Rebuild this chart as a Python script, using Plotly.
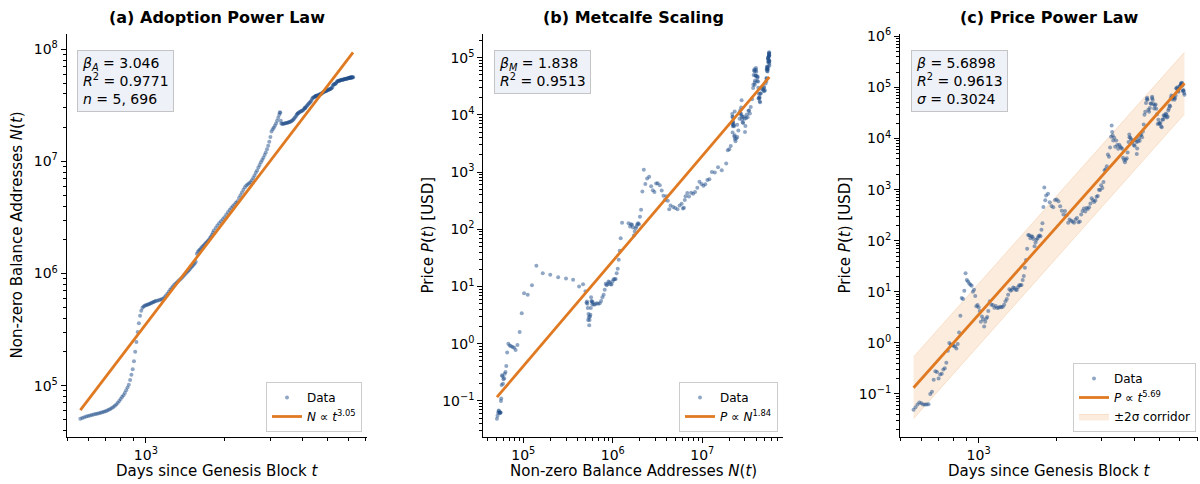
import numpy as np
import plotly.graph_objects as go

# ---------------- data ----------------
days = [
    560, 570, 580, 590, 600, 610, 620, 630, 640, 650, 660, 670, 680, 690, 700, 710, 720, 730,
    740, 750, 760, 770, 780, 790, 800, 810, 820, 830, 840, 850, 860, 870, 880, 890, 900, 910,
    920, 930, 940, 950, 960, 970, 980, 990, 1000, 1010, 1020, 1030, 1040, 1050, 1060, 1070, 1080, 1090,
    1105, 1120, 1135, 1150, 1165, 1180, 1195, 1210, 1225, 1240, 1255, 1270, 1285, 1300, 1315, 1330,
    1345, 1360, 1375, 1390, 1405, 1420, 1435, 1450, 1465, 1480, 1495, 1510, 1525, 1540, 1555, 1570,
    1585, 1600, 1615, 1630, 1645, 1660, 1675, 1690, 1705, 1720, 1735, 1750, 1765, 1780, 1795, 1810,
    1824, 1855, 1883, 1914, 1944, 1975, 2005, 2036, 2067, 2097, 2128, 2158,
    2189, 2220, 2248, 2279, 2309, 2340, 2370, 2401, 2432, 2462, 2493, 2523,
    2554, 2585, 2614, 2645, 2675, 2706, 2736, 2767, 2798, 2828, 2859, 2889,
    2920, 2951, 2979, 3010, 3040, 3071, 3101, 3132, 3163, 3193, 3224, 3254, 3270,
    3285, 3300, 3316, 3344, 3375, 3405, 3436, 3466, 3497, 3528, 3558, 3589, 3619,
    3650, 3681, 3709, 3740, 3770, 3801, 3827, 3831, 3862, 3893, 3923, 3954, 3984,
    4015, 4046, 4075, 4090, 4106, 4136, 4167, 4197, 4228, 4259, 4289, 4320, 4350,
    4381, 4412, 4440, 4471, 4484, 4501, 4532, 4562, 4593, 4624, 4654, 4685, 4692, 4715,
    4746, 4777, 4805, 4836, 4866, 4897, 4927, 4958, 4989, 5019, 5050, 5080,
    5111, 5142, 5170, 5201, 5231, 5262, 5292, 5323, 5354, 5384, 5415, 5445,
    5476, 5507, 5536, 5567, 5597, 5628, 5658, 5689, 5720, 5750, 5781, 5811,
    5842, 5873, 5901, 5932, 5962, 5993, 6023, 6054, 6067, 6085, 6115, 6120,
    6146, 6166, 6176, 6207, 6238, 6254,
]

addresses = [
    50700, 51500, 52300, 53000, 53600, 54200, 54800, 55300, 55800, 56200, 56600, 57200, 57800, 58500,
    59200, 60000, 61000, 62000, 63200, 64500, 66000, 68000, 70500, 73000, 76000, 79000, 82000, 86000,
    91000, 96000, 102000, 112000, 125000, 140000, 165000, 200000, 245000, 300000, 360000, 420000,
    465000, 495000, 508000, 515000, 520000, 525000, 530000, 535000, 540000, 545000, 550000, 556000,
    562000, 568000,
    572000, 578000, 584000, 590000, 597000, 615000, 635000, 660000, 688000, 715000, 740000, 765000,
    790000, 812000, 833000, 853000, 873000, 895000, 918000, 942000, 968000, 995000, 1020000, 1048000,
    1076000, 1105000, 1135000, 1165000, 1195000, 1225000, 1270000, 1500000, 1560000, 1600000, 1640000,
    1680000, 1720000, 1760000, 1800000, 1840000, 1880000, 1920000, 1960000, 2010000, 2070000, 2140000,
    2220000, 2310000,
    2.42e6, 2.55e6, 2.68e6, 2.80e6, 2.92e6, 3.05e6, 3.17e6, 3.35e6, 3.52e6, 3.68e6, 3.83e6, 3.97e6,
    4.12e6, 4.27e6, 4.42e6, 4.72e6, 4.98e6, 5.28e6, 5.58e6, 5.88e6, 6.08e6, 6.23e6, 6.38e6, 6.50e6,
    6.80e6, 7.10e6, 7.50e6, 7.90e6, 8.30e6, 8.80e6, 9.30e6, 9.80e6, 10.3e6, 10.8e6, 11.4e6, 12.0e6,
    12.8e6, 13.8e6, 15.0e6, 16.5e6, 18.5e6, 19.3e6, 20.0e6, 20.8e6, 21.8e6, 23.0e6, 24.5e6, 26.0e6, 27.5e6,
    27.2e6, 23.0e6, 21.8e6, 21.6e6, 21.7e6, 21.8e6, 21.9e6, 22.0e6, 22.1e6, 22.2e6, 22.4e6, 22.6e6, 22.8e6,
    23.1e6, 23.5e6, 24.0e6, 24.6e6, 25.3e6, 26.1e6, 26.6e6, 26.7e6, 27.1e6, 27.4e6, 27.8e6, 28.0e6, 28.3e6,
    28.6e6, 29.2e6, 29.8e6, 30.0e6, 30.3e6, 30.9e6, 31.5e6, 32.1e6, 32.8e6, 33.4e6, 34.0e6, 34.8e6, 36.0e6,
    37.0e6, 37.2e6, 37.5e6, 38.0e6, 38.2e6, 38.5e6, 38.5e6, 38.6e6, 38.9e6, 39.2e6, 39.5e6, 39.8e6, 39.8e6, 40.2e6,
    40.6e6, 41.0e6, 41.3e6, 41.7e6, 42.0e6, 42.3e6, 42.5e6, 42.8e6, 43.1e6, 43.4e6, 43.7e6, 43.9e6,
    44.2e6, 44.6e6, 45.0e6, 45.8e6, 47.5e6, 48.5e6, 48.8e6, 48.9e6, 49.2e6, 50.0e6, 51.0e6, 51.8e6,
    52.2e6, 52.3e6, 52.5e6, 52.7e6, 53.0e6, 53.2e6, 53.4e6, 53.5e6, 53.6e6, 53.8e6, 54.0e6, 54.2e6,
    54.4e6, 54.5e6, 54.6e6, 54.8e6, 55.0e6, 55.2e6, 55.4e6, 55.6e6, 55.7e6, 55.8e6, 55.9e6, 55.9e6,
    56.0e6, 56.0e6, 56.0e6, 56.1e6, 56.2e6, 56.2e6,
]

price_usd = [
    0.049, 0.055, 0.062, 0.068, 0.066, 0.062, 0.062, 0.062, 0.063, 0.10, 0.11, 0.19, 0.28, 0.27,
    0.20, 0.24, 0.25, 0.30, 0.32, 0.41, 0.70, 1.0, 0.93, 0.90, 0.88, 0.85, 0.78, 0.95, 1.6, 3.4,
    7.6, 7.2, 10.5, 23, 17, 16, 14.5, 13.8, 13.2, 10, 11, 8.3, 5.2, 5.5, 5.0, 4.2, 2.6, 3.3, 2.9,
    2.1, 2.6, 3.0, 3.2, 4.2,
    6.5, 5.6, 5.5, 4.9, 5.3, 4.8, 4.9, 5.1, 5.0, 5.1, 5.6, 6.5, 7.2, 8.8, 11.2, 10.5, 11.0, 12.2,
    11.9, 11.0, 10.9, 12.3, 13.4, 13.4, 13.6, 17.0, 20.5, 29.5, 42, 70, 130, 128, 112, 122, 120,
    108, 78, 92, 104, 112, 122, 127, 122, 165, 220, 460, 1100, 620,
    770, 830, 565, 480, 450, 630, 640, 590, 475, 385, 325, 380,
    315, 225, 260, 245, 235, 225, 260, 280, 230, 238, 325, 380,
    430, 375, 435, 417, 450, 535, 675, 620, 575, 615, 730, 750,
    1000, 980, 1220, 1080, 1420, 2400, 2500, 2870, 4900, 4400, 6700, 10900, 18000,
    13500, 11500, 9200, 10400, 6900, 9200, 7500, 6350, 7600, 7000, 6600, 6350, 4200,
    3800, 3450, 3850, 4100, 5350, 8550, 12000, 10600, 10400, 9600, 8300, 9150, 7400,
    7200, 9350, 8550, 5000, 6400, 8800, 10200, 9100, 11800, 11900, 10600, 13800, 18800,
    29400, 33500, 49600, 58900, 63000, 57800, 36700, 33500, 39900, 48800, 48100, 61300, 66000, 57000,
    47700, 38700, 44400, 46300, 38500, 29800, 19300, 23300, 20000, 19300, 20500, 17200,
    16600, 23700, 23600, 28500, 28100, 26800, 30600, 29700, 25900, 27000, 35400, 38700,
    44200, 43000, 62400, 69700, 58300, 67500, 62800, 64600, 57300, 61800, 69500, 97200,
    94400, 100600, 86000, 82500, 94200, 104600, 107100, 115800, 121000, 108200, 116500, 124000,
    110000, 85000, 87000, 88000, 78000, 72000,
]

# fitted power laws (coefficients printed on the chart, anchors)
beta_A, r2_A, n_days = 3.046, 0.9771, "5, 696"
beta_M, r2_M = 1.838, 0.9513
beta_P, r2_P, sigma_P = 5.6898, 0.9613, 0.3024
fitA_at_1000_days = 3.53e5      # N at t = 1000 days
fitM_at_1e6_addr = 27.9         # P at N = 1e6
fitP_at_1000_days = 3.58        # P at t = 1000 days

titles = ["(a) Adoption Power Law", "(b) Metcalfe Scaling", "(c) Price Power Law"]

# ---------------- styling ----------------
FONT = "DejaVu Sans"
BLUE = "#1F4E8A"
ORANGE = "#E07A22"
W, H = 1200, 484

t = np.array(days, float)
N = np.array(addresses, float)
P = np.array(price_usd, float)

t_line = np.array([t.min(), t.max()])
NA_line = fitA_at_1000_days * (t_line / 1000.0) ** beta_A
N_line = np.array([N.min(), N.max()])
PM_line = fitM_at_1e6_addr * (N_line / 1e6) ** beta_M
PP_line = fitP_at_1000_days * (t_line / 1000.0) ** beta_P
PP_up = PP_line * 10 ** (2 * sigma_P)
PP_lo = PP_line / 10 ** (2 * sigma_P)


def log_range(*arrs):
    v = np.log10(np.concatenate([np.asarray(a, float) for a in arrs]))
    lo, hi = v.min(), v.max()
    pad = 0.05 * (hi - lo)
    return [lo - pad, hi + pad]


def sup(k):
    s = str(k).replace("-", "\u2212")
    return "10<sup>%s</sup>" % s


def log_axis(domain, anchor, rng):
    k0, k1 = int(np.floor(rng[0])), int(np.ceil(rng[1]))
    majors = [10.0 ** k for k in range(k0, k1 + 1) if rng[0] <= k <= rng[1]]
    labels = [sup(k) for k in range(k0, k1 + 1) if rng[0] <= k <= rng[1]]
    minors = [m * 10.0 ** k for k in range(k0 - 1, k1 + 1) for m in range(2, 10)
              if rng[0] <= np.log10(m * 10.0 ** k) <= rng[1]]
    return dict(
        type="log", domain=domain, anchor=anchor, range=rng,
        showline=True, linecolor="black", linewidth=1.1, mirror=False,
        showgrid=False, zeroline=False, automargin=False,
        ticks="outside", ticklen=5, tickwidth=1.1, tickcolor="black",
        tickmode="array", tickvals=majors, ticktext=labels,
        tickfont=dict(family=FONT, size=14, color="black"),
        minor=dict(ticks="outside", ticklen=3, tickwidth=0.9, tickcolor="black",
                   tickmode="array", tickvals=minors, showgrid=False),
    )


# plot-area pixel boxes (left, right) ; shared top / bottom
px_x = [(66.7, 366.7), (483.3, 783.0), (900.0, 1198.0)]
px_top, px_bot = 34.0, 437.0
ydom = [1 - px_bot / H, 1 - px_top / H]
xdoms = [[a / W, b / W] for a, b in px_x]

fig = go.Figure()

data_style = dict(mode="markers", marker=dict(color=BLUE, size=4, opacity=0.5, line=dict(width=0)))

# (a)
fig.add_trace(go.Scatter(x=t, y=N, name="Data", xaxis="x", yaxis="y", legend="legend",
                         legendrank=1, **data_style))
fig.add_trace(go.Scatter(x=t_line, y=NA_line, mode="lines", line=dict(color=ORANGE, width=2.8),
                         name="<i>N</i> \u221d <i>t</i><sup>3.05</sup>", xaxis="x", yaxis="y",
                         legend="legend", legendrank=2))
# (b)
fig.add_trace(go.Scatter(x=N, y=P, name="Data", xaxis="x2", yaxis="y2", legend="legend2",
                         legendrank=1, **data_style))
fig.add_trace(go.Scatter(x=N_line, y=PM_line, mode="lines", line=dict(color=ORANGE, width=2.8),
                         name="<i>P</i> \u221d <i>N</i><sup>1.84</sup>", xaxis="x2", yaxis="y2",
                         legend="legend2", legendrank=2))
# (c)
fig.add_trace(go.Scatter(x=t_line, y=PP_up, mode="lines", line=dict(color="rgba(230,126,34,0.18)", width=1),
                         showlegend=False, hoverinfo="skip", xaxis="x3", yaxis="y3", legend="legend3"))
fig.add_trace(go.Scatter(x=t_line, y=PP_lo, mode="lines", line=dict(color="rgba(230,126,34,0.18)", width=1),
                         fill="tonexty", fillcolor="rgba(230,126,34,0.15)",
                         name="\u00b12\u03c3 corridor", xaxis="x3", yaxis="y3", legend="legend3",
                         legendrank=3))
fig.add_trace(go.Scatter(x=t, y=P, name="Data", xaxis="x3", yaxis="y3", legend="legend3",
                         legendrank=1, **data_style))
fig.add_trace(go.Scatter(x=t_line, y=PP_line, mode="lines", line=dict(color=ORANGE, width=2.8),
                         name="<i>P</i> \u221d <i>t</i><sup>5.69</sup>", xaxis="x3", yaxis="y3",
                         legend="legend3", legendrank=2))

rx_a = log_range(t, t_line)
ry_a = log_range(N, NA_line)
rx_b = log_range(N, N_line)
ry_b = log_range(P, PM_line)
rx_c = log_range(t, t_line)
ry_c = log_range(P, PP_up, PP_lo)

layout = dict(
    width=W, height=H, margin=dict(l=0, r=0, t=0, b=0),
    paper_bgcolor="white", plot_bgcolor="white",
    font=dict(family=FONT, size=14, color="black"),
    xaxis=log_axis(xdoms[0], "y", rx_a), yaxis=log_axis(ydom, "x", ry_a),
    xaxis2=log_axis(xdoms[1], "y2", rx_b), yaxis2=log_axis(ydom, "x2", ry_b),
    xaxis3=log_axis(xdoms[2], "y3", rx_c), yaxis3=log_axis(ydom, "x3", ry_c),
)
leg_common = dict(xanchor="right", yanchor="bottom", bgcolor="white", bordercolor="#CCCCCC",
                  borderwidth=1, font=dict(family=FONT, size=12, color="black"),
                  tracegroupgap=0, itemwidth=30, traceorder="normal")
layout["legend"] = dict(x=362 / W, y=1 - 432 / H, **leg_common)
layout["legend2"] = dict(x=778 / W, y=1 - 432 / H, **leg_common)
layout["legend3"] = dict(x=1196 / W, y=1 - 432 / H, **leg_common)
fig.update_layout(**layout)

ann = []
for i, title in enumerate(titles):
    cx = (px_x[i][0] + px_x[i][1]) / 2 / W
    ann.append(dict(text="<b>%s</b>" % title, x=cx, y=1 - 18 / H, xref="paper", yref="paper",
                    xanchor="center", yanchor="middle", showarrow=False,
                    font=dict(family=FONT, size=16, color="black")))
xtitles = ["Days since Genesis Block <i>t</i>", "Non-zero Balance Addresses <i>N</i>(<i>t</i>)",
           "Days since Genesis Block <i>t</i>"]
ytitles = ["Non-zero Balance Addresses <i>N</i>(<i>t</i>)", "Price <i>P</i>(<i>t</i>) [USD]",
           "Price <i>P</i>(<i>t</i>) [USD]"]
ytitle_x = [17, 428, 845]
for i in range(3):
    cx = (px_x[i][0] + px_x[i][1]) / 2 / W
    ann.append(dict(text=xtitles[i], x=cx, y=1 - 471 / H, xref="paper", yref="paper",
                    xanchor="center", yanchor="middle", showarrow=False,
                    font=dict(family=FONT, size=15, color="black")))
    ann.append(dict(text=ytitles[i], x=ytitle_x[i] / W, y=1 - (px_top + px_bot) / 2 / H,
                    xref="paper", yref="paper", xanchor="center", yanchor="middle",
                    textangle=-90, showarrow=False, font=dict(family=FONT, size=15, color="black")))

stats = [
    "<i>\u03b2</i><sub><i>A</i></sub> = %.3f<br><i>R</i><sup>2</sup> = %.4f<br><i>n</i> = %s" % (beta_A, r2_A, n_days),
    "<i>\u03b2</i><sub><i>M</i></sub> = %.3f<br><i>R</i><sup>2</sup> = %.4f" % (beta_M, r2_M),
    "<i>\u03b2</i> = %.4f<br><i>R</i><sup>2</sup> = %.4f<br><i>\u03c3</i> = %.4f" % (beta_P, r2_P, sigma_P),
]
stat_x = [77, 494, 911]
for i in range(3):
    ann.append(dict(text=stats[i], x=stat_x[i] / W, y=1 - 50 / H, xref="paper", yref="paper",
                    xanchor="left", yanchor="top", align="left", showarrow=False,
                    bgcolor="#EEF1F8", bordercolor="#C4C4C4", borderwidth=1, borderpad=4,
                    font=dict(family=FONT, size=14, color="black")))
fig.update_layout(annotations=ann)

fig.write_html("out.html", config={"displayModeBar": False},
               post_script="document.body.style.margin='0px';document.body.style.overflow='hidden';")
